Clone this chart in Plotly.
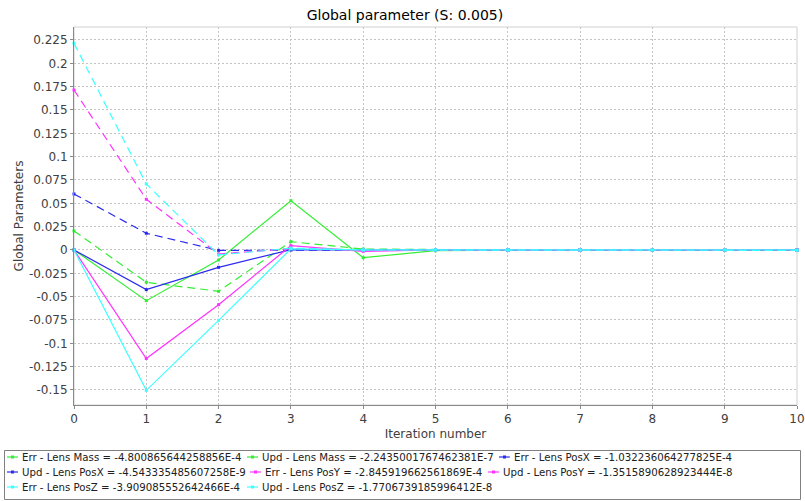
import plotly.graph_objects as go

# Figure and plot-area geometry (pixels)
W, H = 805, 501
PL, PR, PT, PB = 74, 797, 27, 405

iterations = list(range(11))

# Parameter traces for iterations 0..9; iteration 10 comes from the legend values below
err_lens_mass = [0.0204, -0.0346, -0.0443, 0.0089, 0.0010, 0.0003, 0.0001, 0.0, 0.0, 0.0]
upd_lens_mass = [0.0, -0.0543, -0.0107, 0.0528, -0.0083, -0.0008, -0.0002, 0.0, 0.0, 0.0]
err_lens_posx = [0.0600, 0.0179, -0.0004, 0.0, 0.0, 0.0, 0.0, 0.0, 0.0, 0.0]
upd_lens_posx = [0.0, -0.0425, -0.0186, 0.0003, 0.0, 0.0, 0.0, 0.0, 0.0, 0.0]
err_lens_posy = [0.1714, 0.0543, -0.0043, 0.0015, 0.0, 0.0, 0.0, 0.0, 0.0, 0.0]
upd_lens_posy = [0.0, -0.1163, -0.0586, 0.0046, -0.0015, 0.0, 0.0, 0.0, 0.0, 0.0]
err_lens_posz = [0.2214, 0.0707, -0.0054, 0.0020, 0.0, 0.0, 0.0, 0.0, 0.0, 0.0]
upd_lens_posz = [0.0, -0.1504, -0.0754, 0.0012, 0.0, 0.0, 0.0, 0.0, 0.0, 0.0]

series_names = [
    "Err - Lens Mass", "Upd - Lens Mass", "Err - Lens PosX", "Upd - Lens PosX",
    "Err - Lens PosY", "Upd - Lens PosY", "Err - Lens PosZ", "Upd - Lens PosZ",
]
final_value_text = [
    "-4.800865644258856E-4", "-2.2435001767462381E-7", "-1.032236064277825E-4",
    "-4.543335485607258E-9", "-2.845919662561869E-4", "-1.3515890628923444E-8",
    "-3.909085552642466E-4", "-1.7706739185996412E-8",
]
series_values = [
    err_lens_mass, upd_lens_mass, err_lens_posx, upd_lens_posx,
    err_lens_posy, upd_lens_posy, err_lens_posz, upd_lens_posz,
]
series_colors = ["#33ee33", "#33ee33", "#2a2af0", "#2a2af0",
                 "#ff33ff", "#ff33ff", "#3dffff", "#3dffff"]
series_dash = ["8px,5px", "solid"] * 4

y_tick_values = [-0.15, -0.125, -0.1, -0.075, -0.05, -0.025, 0, 0.025, 0.05,
                 0.075, 0.1, 0.125, 0.15, 0.175, 0.2, 0.225]
y_tick_labels = ["-0.15", "-0.125", "-0.1", "-0.075", "-0.05", "-0.025", "0", "0.025", "0.05",
                 "0.075", "0.1", "0.125", "0.15", "0.175", "0.2", "0.225"]
x_tick_values = list(range(11))
x_tick_labels = [str(v) for v in x_tick_values]

FONT = "DejaVu Sans"
GRID = "#c4c4c4"
AXIS = "#8a8a8a"
TEXT = "#404040"

fig = go.Figure()
for name, vals, final, color, dash in zip(series_names, series_values, final_value_text,
                                         series_colors, series_dash):
    fig.add_trace(go.Scatter(
        x=iterations,
        y=vals + [float(final)],
        mode="lines+markers",
        name=f"{name} = {final}",
        line=dict(color=color, width=1.2, dash=dash),
        marker=dict(color=color, size=3, symbol="square"),
        showlegend=False,
        cliponaxis=False,
    ))


def px_x(px):
    return (px - PL) / (PR - PL)


def px_y(py):
    return (PB - py) / (PB - PT)


shapes = [
    # light plot outline
    dict(type="rect", xref="paper", yref="paper", x0=0, x1=1, y0=0, y1=1,
         line=dict(color="#d0d0d0", width=1), layer="below"),
    # legend frame
    dict(type="rect", xref="paper", yref="paper",
         x0=px_x(4.5), x1=px_x(800.5), y0=px_y(499.5), y1=px_y(450.5),
         line=dict(color="#808080", width=1)),
]
annotations = []

# legend entries: symbol start x and row centre y (pixels)
legend_slots = [(7, 457), (247, 457), (499, 457),
                (7, 472), (250, 472), (488, 472),
                (7, 487), (247, 487)]
for (sx, sy), name, final, color in zip(legend_slots, series_names, final_value_text, series_colors):
    shapes.append(dict(type="line", xref="paper", yref="paper",
                       x0=px_x(sx), x1=px_x(sx + 11), y0=px_y(sy), y1=px_y(sy),
                       line=dict(color=color, width=1.2)))
    shapes.append(dict(type="rect", xref="paper", yref="paper",
                       x0=px_x(sx + 4), x1=px_x(sx + 7), y0=px_y(sy + 1.5), y1=px_y(sy - 1.5),
                       line=dict(width=0), fillcolor=color))
    annotations.append(dict(
        xref="paper", yref="paper", x=px_x(sx + 13), y=px_y(sy),
        xanchor="left", yanchor="middle", showarrow=False,
        text=f"{name} = {final}", font=dict(family=FONT, size=10.2, color="#202020"),
    ))

fig.update_layout(
    width=W, height=H,
    margin=dict(l=PL, r=W - PR, t=PT, b=H - PB, pad=0),
    paper_bgcolor="white", plot_bgcolor="white",
    title=dict(text="Global parameter (S: 0.005)", x=0.503, xref="container",
               y=1 - 15 / H, yref="container", xanchor="center", yanchor="middle",
               font=dict(family=FONT, size=14, color="#000000")),
    font=dict(family=FONT, size=12, color=TEXT),
    showlegend=False,
    shapes=shapes,
    annotations=annotations,
    xaxis=dict(
        range=[0, 10], tickvals=x_tick_values, ticktext=x_tick_labels,
        showgrid=True, gridcolor=GRID, gridwidth=1, griddash="2px,2px",
        showline=True, linecolor=AXIS, linewidth=1,
        ticks="outside", ticklen=3, tickcolor=AXIS, tickwidth=1,
        tickfont=dict(family=FONT, size=12, color=TEXT),
        zeroline=False, automargin=False,
        title=dict(text="Iteration number", standoff=4,
                   font=dict(family=FONT, size=12, color=TEXT)),
    ),
    yaxis=dict(
        range=[-0.1661, 0.2389], tickvals=y_tick_values, ticktext=y_tick_labels,
        showgrid=True, gridcolor=GRID, gridwidth=1, griddash="2px,2px",
        showline=True, linecolor=AXIS, linewidth=1,
        ticks="outside", ticklen=3, tickcolor=AXIS, tickwidth=1,
        tickfont=dict(family=FONT, size=12, color=TEXT),
        zeroline=False, automargin=False,
        title=dict(text="Global Parameters", standoff=2,
                   font=dict(family=FONT, size=12, color=TEXT)),
    ),
)

fig.write_html("out.html")
